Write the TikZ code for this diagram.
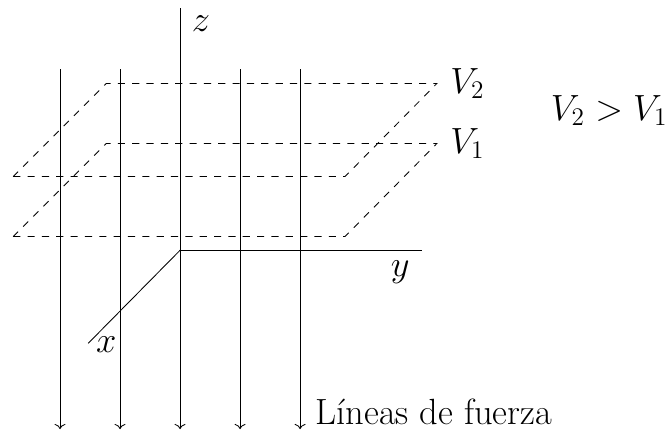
\documentclass[tikz,border=0pt]{standalone}
\usepackage{tikz}
\usetikzlibrary{arrows.meta,positioning,calc}
\tikzset{
  fieldline/.style={->, line width=0.4pt},
  axisline/.style={line width=0.4pt},
  planeline/.style={dash pattern=on 3.4pt off 3.4pt, line width=0.4pt},
  lbl/.style={font=\LARGE, inner sep=0.333em},
}

\begin{document}
\begin{tikzpicture}[x=1cm,y=1cm]
  \useasboundingbox (-3,-2.98) rectangle (8.18,4.17);

  % equipotential planes
  \foreach \k/\b in {1/0.23,2/1.23} {
    \coordinate (fl\k) at (-2.78,\b);
    \coordinate (fr\k) at (2.75,\b);
    \coordinate (br\k) at ($(fr\k)+(1.53,1.55)$);
    \coordinate (bl\k) at ($(fl\k)+(1.55,1.55)$);
    \draw[planeline] (fl\k) -- (fr\k) -- (br\k) -- (bl\k) -- cycle;
    \node[lbl, anchor=west] (V\k) at ([xshift=0.1cm]br\k) {$V_\k$};
  }

  % axes
  \coordinate (O) at (0,0);
  \coordinate (xend) at (-1.53,-1.55);
  \coordinate (yend) at (4.03,0);
  \draw[axisline] (O) -- (xend);
  \draw[axisline] (O) -- (yend);
  \node[lbl] (xl) at (-1.23,-1.58) {$x$};
  \node[lbl] (yl) at (3.67,-0.37) {$y$};

  % field lines
  \foreach \i in {-2,-1,1,2} {
    \coordinate (top\i) at (\i,3.02);
    \coordinate (bot\i) at (\i,-2.98);
    \draw[fieldline] (top\i) -- (bot\i);
  }
  \coordinate (ztop) at (0,4.03);
  \coordinate (zbot) at (0,-2.98);
  \draw[fieldline] (ztop) -- (zbot);
  \node[lbl] (zl) at (0.35,3.77) {$z$};

  % labels
  \node[lbl] (cmp) at (7.15,2.33) {$V_2 > V_1$};
  \node[lbl, inner sep=0pt, anchor=west] (lf) at (2.25,-2.7) {Líneas de fuerza};
\end{tikzpicture}
\end{document}
